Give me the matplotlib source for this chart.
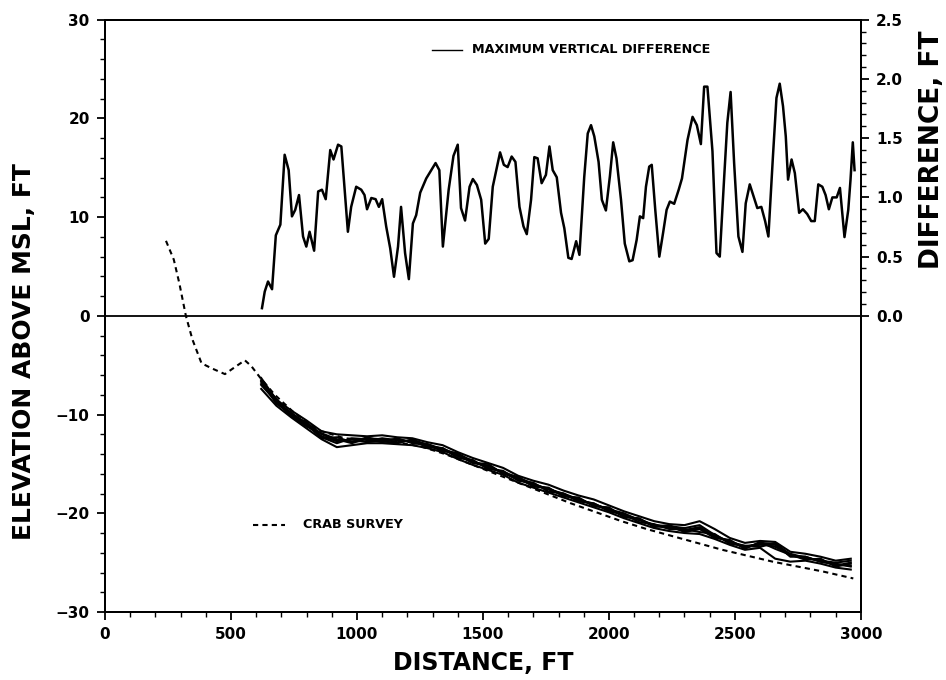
import matplotlib
matplotlib.use("Agg")
import matplotlib.pyplot as plt
from matplotlib.ticker import MultipleLocator, FixedLocator

# ---------------- data ----------------
diff_x = [623, 634, 647, 663, 678, 696, 713, 729, 742, 755,
          770, 786, 799, 812, 830, 846, 861, 876, 894, 907,
          925, 938, 964, 977, 997, 1017, 1030, 1040, 1057, 1074,
          1087, 1100, 1116, 1132, 1147, 1163, 1175, 1191, 1206, 1222,
          1235, 1251, 1275, 1295, 1312, 1327, 1341, 1364, 1383, 1400,
          1413, 1429, 1447, 1460, 1476, 1493, 1509, 1523, 1539, 1552,
          1568, 1583, 1598, 1614, 1629, 1645, 1661, 1674, 1691, 1704,
          1717, 1733, 1750, 1764, 1777, 1793, 1810, 1823, 1839, 1852,
          1870, 1883, 1902, 1916, 1929, 1942, 1959, 1972, 1988, 2004,
          2017, 2030, 2048, 2063, 2081, 2094, 2110, 2123, 2136, 2147,
          2160, 2170, 2184, 2200, 2215, 2229, 2242, 2259, 2277, 2290,
          2312, 2332, 2349, 2365, 2378, 2391, 2411, 2427, 2440, 2457,
          2470, 2483, 2497, 2514, 2530, 2543, 2559, 2576, 2589, 2605,
          2620, 2633, 2651, 2665, 2678, 2691, 2702, 2711, 2725, 2738,
          2755, 2770, 2787, 2803, 2817, 2831, 2847, 2860, 2873, 2887,
          2904, 2917, 2935, 2950, 2959, 2968, 2975]
diff_y = [0.065, 0.205, 0.29, 0.225, 0.68, 0.77, 1.36, 1.23, 0.84, 0.895,
          1.02, 0.67, 0.585, 0.71, 0.55, 1.05, 1.065, 0.985, 1.40, 1.32,
          1.445, 1.43, 0.71, 0.92, 1.09, 1.065, 1.02, 0.90, 0.995, 0.985,
          0.92, 0.985, 0.755, 0.57, 0.33, 0.585, 0.92, 0.53, 0.31, 0.78,
          0.85, 1.04, 1.16, 1.23, 1.29, 1.23, 0.585, 1.065, 1.35, 1.445,
          0.91, 0.805, 1.09, 1.155, 1.105, 0.98, 0.61, 0.65, 1.09, 1.22,
          1.38, 1.275, 1.256, 1.345, 1.30, 0.92, 0.755, 0.69, 0.98, 1.34,
          1.33, 1.12, 1.19, 1.43, 1.23, 1.17, 0.87, 0.74, 0.49, 0.48,
          0.63, 0.515, 1.17, 1.54, 1.61, 1.515, 1.30, 0.98, 0.89, 1.18,
          1.465, 1.33, 0.98, 0.61, 0.46, 0.47, 0.64, 0.84, 0.825, 1.09,
          1.26, 1.275, 0.895, 0.50, 0.70, 0.895, 0.965, 0.946, 1.065, 1.16,
          1.485, 1.68, 1.61, 1.45, 1.935, 1.935, 1.39, 0.53, 0.50, 1.15,
          1.63, 1.89, 1.29, 0.67, 0.54, 0.95, 1.11, 0.995, 0.91, 0.92,
          0.80, 0.67, 1.345, 1.84, 1.96, 1.77, 1.515, 1.15, 1.32, 1.205,
          0.87, 0.90, 0.86, 0.80, 0.80, 1.11, 1.09, 1.02, 0.90, 1.0,
          1.0, 1.08, 0.665, 0.895, 1.15, 1.465, 1.23]

crab_x = [242, 273, 295, 321, 347, 383, 422, 476, 515, 555, 581, 614, 674,
          750, 850, 950, 1050, 1150, 1250, 1350, 1450, 1550, 1650, 1750,
          1850, 1950, 2050, 2150, 2250, 2350, 2450, 2550, 2650, 2750, 2850, 2970]
crab_y = [7.6, 5.7, 3.3, 0.0, -2.4, -4.8, -5.3, -5.9, -5.2, -4.5, -5.1, -6.2, -8.0,
          -9.8, -11.6, -12.4, -12.6, -12.8, -13.2, -14.0, -15.0, -16.0, -17.0, -18.0,
          -19.0, -19.9, -20.8, -21.6, -22.3, -23.0, -23.7, -24.3, -24.9, -25.4, -25.9, -26.6]

profile_x = [620, 680, 740, 800, 860, 920, 980, 1040, 1100, 1160,
             1220, 1280, 1340, 1400, 1460, 1520, 1580, 1640, 1700, 1760,
             1820, 1880, 1940, 2000, 2060, 2120, 2180, 2240, 2300, 2360,
             2420, 2480, 2540, 2600, 2660, 2720, 2780, 2840, 2900, 2960]
profile_1 = [-6.3, -8.5, -9.6, -10.6, -11.7, -12.0, -12.1, -12.2, -12.1, -12.3,
             -12.4, -12.8, -13.1, -13.8, -14.4, -14.9, -15.4, -16.2, -16.7, -17.1,
             -17.7, -18.2, -18.6, -19.2, -19.8, -20.3, -20.8, -21.1, -21.2, -20.8,
             -21.6, -22.5, -23.0, -22.8, -22.9, -23.9, -24.1, -24.4, -24.8, -24.6]
profile_2 = [-6.6, -8.9, -9.9, -10.9, -12.3, -12.9, -12.4, -12.5, -12.8, -12.4,
             -12.9, -13.0, -13.6, -14.1, -14.9, -15.2, -15.9, -16.5, -17.2, -17.5,
             -18.2, -18.5, -19.2, -19.5, -20.3, -20.6, -21.3, -21.4, -21.8, -21.5,
             -22.4, -22.8, -23.5, -23.0, -23.1, -24.4, -24.4, -24.9, -25.1, -25.4]
profile_3 = [-7.0, -8.7, -10.2, -11.2, -11.9, -12.5, -12.9, -12.4, -12.5, -12.8,
             -12.6, -13.3, -13.4, -14.4, -14.6, -15.5, -15.7, -16.7, -16.9, -17.8,
             -18.0, -18.8, -19.0, -19.8, -20.1, -20.9, -21.1, -21.6, -21.6, -21.9,
             -22.1, -23.1, -23.3, -23.4, -23.0, -24.2, -24.6, -24.7, -25.3, -25.0]
profile_4 = [-7.4, -9.1, -10.3, -11.4, -12.5, -13.3, -13.1, -12.9, -12.9, -13.0,
             -13.1, -13.4, -13.8, -14.5, -15.1, -15.6, -16.1, -16.9, -17.4, -17.9,
             -18.4, -18.9, -19.4, -19.9, -20.5, -21.0, -21.5, -21.8, -22.0, -22.1,
             -22.6, -23.2, -23.7, -23.5, -24.6, -24.9, -24.8, -25.1, -25.5, -25.7]
profile_5 = [-6.9, -8.6, -10.0, -10.8, -12.0, -12.6, -12.7, -12.7, -12.4, -12.6,
             -12.7, -13.0, -13.5, -14.0, -14.7, -15.4, -15.8, -16.4, -17.0, -17.6,
             -18.0, -18.6, -19.1, -19.6, -20.0, -20.7, -21.2, -21.3, -21.5, -21.2,
             -22.2, -22.9, -23.4, -23.1, -23.4, -24.1, -24.5, -24.8, -25.0, -24.8]
profile_6 = [-6.5, -8.8, -9.8, -11.1, -12.2, -12.7, -12.5, -12.8, -12.6, -12.5,
             -12.8, -13.2, -13.4, -14.2, -14.8, -15.2, -15.9, -16.6, -17.1, -17.5,
             -18.1, -18.7, -19.0, -19.7, -20.2, -20.6, -21.2, -21.5, -21.7, -21.4,
             -22.3, -22.9, -23.3, -23.2, -23.2, -24.3, -24.4, -24.9, -25.2, -25.3]
profile_7 = [-6.7, -8.4, -10.1, -11.0, -12.4, -12.3, -12.8, -12.3, -12.7, -12.9,
             -12.5, -13.1, -13.7, -13.9, -14.9, -15.0, -16.0, -16.3, -17.3, -17.4,
             -18.3, -18.4, -19.3, -19.4, -20.4, -20.5, -21.4, -21.2, -21.9, -21.6,
             -22.5, -22.7, -23.6, -22.9, -23.6, -24.2, -24.7, -24.6, -25.4, -25.1]
profiles = [profile_1, profile_2, profile_3, profile_4, profile_5, profile_6, profile_7]

x_ticks = [0, 500, 1000, 1500, 2000, 2500, 3000]
y_ticks = [-30, -20, -10, 0, 10, 20, 30]
diff_ticks = [0.0, 0.5, 1.0, 1.5, 2.0, 2.5]
diff_tick_labels = ["0.0", "0.5", "1.0", "1.5", "2.0", "2.5"]

# ---------------- figure ----------------
plt.rcParams['font.family'] = ['DejaVu Sans']
plt.rcParams['font.weight'] = 'bold'

fig = plt.figure(figsize=(9.46, 6.80), dpi=100)
ax = fig.add_axes([0.111, 0.100, 0.799, 0.871])
ax2 = ax.twinx()

ax.set_xlim(0, 3000)
ax.set_ylim(-30, 30)
ax2.set_ylim(-2.5, 2.5)

# zero line
ax.axhline(0, color='black', lw=1.3, zorder=2)

# crab survey
ax.plot(crab_x, crab_y, color='black', lw=1.5, ls=(0, (2.5, 2.0)), zorder=3)

# survey profiles
for p in profiles:
    ax.plot(profile_x, p, color='black', lw=1.5, solid_joinstyle='round', zorder=4)

# maximum vertical difference
ax2.plot(diff_x, diff_y, color='black', lw=1.8, solid_joinstyle='round')

# in-plot legends
ax.plot([1296, 1415], [26.96, 26.96], color='black', lw=1.0)
ax.text(1455, 26.96, "MAXIMUM VERTICAL DIFFERENCE", fontsize=9.2, fontweight='bold',
        va='center', ha='left')
ax.plot([587, 714], [-21.18, -21.18], color='black', lw=1.5, ls=(0, (2.5, 2.0)))
ax.text(786, -21.18, "CRAB SURVEY", fontsize=9.2, fontweight='bold',
        va='center', ha='left')

# ticks
ax.xaxis.set_major_locator(FixedLocator(x_ticks))
ax.xaxis.set_minor_locator(MultipleLocator(100))
ax.yaxis.set_major_locator(FixedLocator(y_ticks))
ax.yaxis.set_minor_locator(MultipleLocator(2))
ax.tick_params(axis='both', which='major', direction='out', length=6, width=1.3,
               labelsize=11, pad=5)
ax.tick_params(axis='both', which='minor', direction='out', length=3.5, width=1.0)
ax.tick_params(axis='y', which='both', right=False)
ax.tick_params(axis='x', which='both', top=False)
for lbl in ax.get_xticklabels() + ax.get_yticklabels():
    lbl.set_fontweight('bold')

ax2.yaxis.set_major_locator(FixedLocator(diff_ticks))
ax2.set_yticklabels(diff_tick_labels)
ax2.yaxis.set_minor_locator(FixedLocator([0.1 * i for i in range(26)]))
ax2.tick_params(axis='y', which='major', direction='out', length=6, width=1.3,
                labelsize=11, pad=5)
ax2.tick_params(axis='y', which='minor', direction='out', length=3.5, width=1.0)
for lbl in ax2.get_yticklabels():
    lbl.set_fontweight('bold')

for a in (ax, ax2):
    for s in a.spines.values():
        s.set_linewidth(1.4)

ax.set_xlabel("DISTANCE, FT", fontsize=17, fontweight='bold', labelpad=6)
ax.text(-0.107, 0.44, "ELEVATION ABOVE MSL, FT", transform=ax.transAxes, rotation=90,
        fontsize=18, fontweight='bold', ha='center', va='center')
ax.text(1.094, 0.78, "DIFFERENCE, FT", transform=ax.transAxes, rotation=90,
        fontsize=19, fontweight='bold', ha='center', va='center')

fig.savefig("out.png", dpi=100)
